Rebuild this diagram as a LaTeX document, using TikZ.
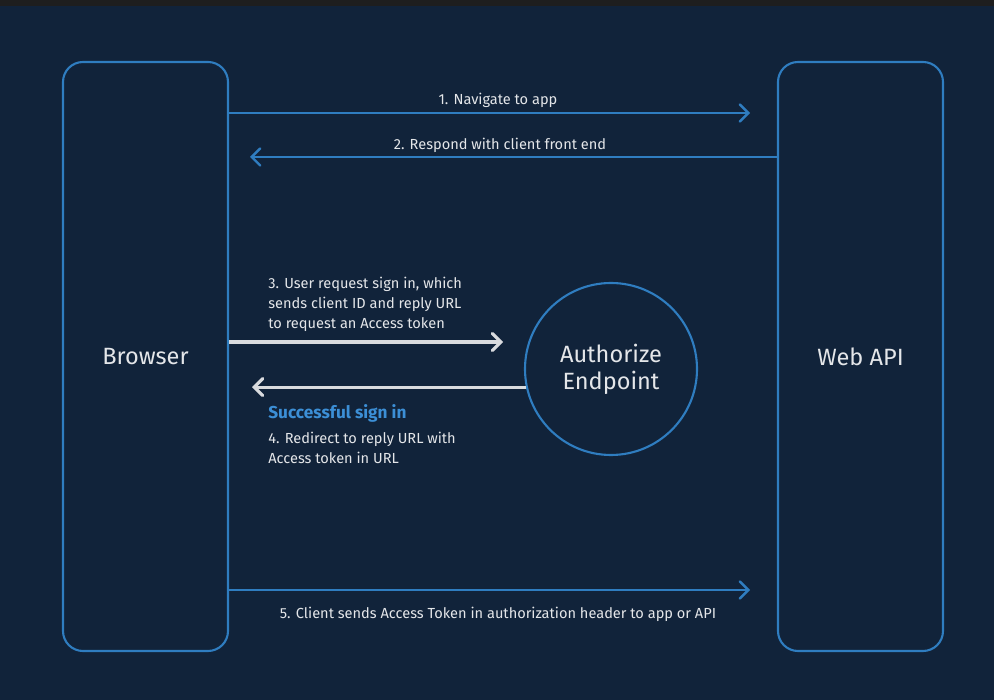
\documentclass[tikz,border=0pt]{standalone}
\usepackage{fontspec}
\setmainfont{Fira Sans}
\setsansfont{Fira Sans}
\usepackage{xcolor}
\usetikzlibrary{arrows.meta,positioning,calc}

\begin{document}
\begin{tikzpicture}[
  x=0.2mm,
  y=-0.2mm,
  >={Straight Barb[length=1.7mm,width=3.4mm,line cap=round]},
  font=\sffamily\fontsize{8.3}{11.4}\selectfont,
  lane/.style={rounded corners=4mm,draw=flowblue,line width=1.2pt,
    minimum width=3.30cm,minimum height=11.78cm,inner sep=0pt,
    font=\sffamily\fontsize{13.4}{15.5}\selectfont,text=labelgrey},
  hub/.style={circle,draw=flowblue,line width=1.2pt,minimum size=3.44cm,
    inner sep=0pt,align=center,
    font=\sffamily\fontsize{13.4}{15.5}\selectfont,text=labelgrey},
  step label/.style={text=labelgrey,align=left,inner sep=0pt},
  flow/.style={->,line width=1.4pt,draw=flowblue},
  tokenflow/.style={->,line width=1.8pt,draw=tokenwhite},
  status/.style={font=\sffamily\bfseries\fontsize{9.8}{11.4}\selectfont,
    text=signblue,inner sep=0pt}
]
  \definecolor{navybg}{HTML}{11233A}
  \definecolor{topbar}{HTML}{1E1E1E}
  \definecolor{flowblue}{HTML}{2F7DC0}
  \definecolor{signblue}{HTML}{3C8FD6}
  \definecolor{labelgrey}{HTML}{E4E6E9}
  \definecolor{tokenwhite}{HTML}{D9DBDE}

  % background
  \fill[navybg] (0,0) rectangle (994,700);
  \fill[topbar] (0,0) rectangle (994,6);

  \node[lane] (browser) at (145.5,356.5) {Browser};
  \node[lane] (webapi) at (860.5,356.5) {Web API};
  \node[hub] (endpoint) at (611,369) {Authorize\\Endpoint};

  \coordinate (navEnd) at (750,113);
  \coordinate (respEnd) at (250,157);
  \coordinate (reqEnd) at (503,342);
  \coordinate (redirEnd) at (252,387);
  \coordinate (sendEnd) at (750,590);

  \draw[flow] (browser.east |- navEnd) -- (navEnd);
  \draw[flow] (webapi.west |- respEnd) -- (respEnd);
  \draw[tokenflow] (browser.east |- reqEnd) -- (reqEnd);
  \draw[tokenflow] (endpoint.192) -- (redirEnd |- endpoint.192);
  \draw[flow] (browser.east |- sendEnd) -- (sendEnd);

  \node[step label] (navText) at (498,100) {1. Navigate to app};
  \node[step label] (respText) at (500,145) {2. Respond with client front end};
  \node[step label,anchor=west] (reqText) at (268,304)
    {3. User request sign in, which\\sends client ID and reply URL\\to request an Access token};
  \node[status,anchor=west] (signText) at (268,413) {Successful sign in};
  \node[step label,anchor=west] (redirText) at (268,448)
    {4. Redirect to reply URL with\\Access token in URL};
  \node[step label] (sendText) at (498,614)
    {5. Client sends Access Token in authorization header to app or API};
\end{tikzpicture}
\end{document}
